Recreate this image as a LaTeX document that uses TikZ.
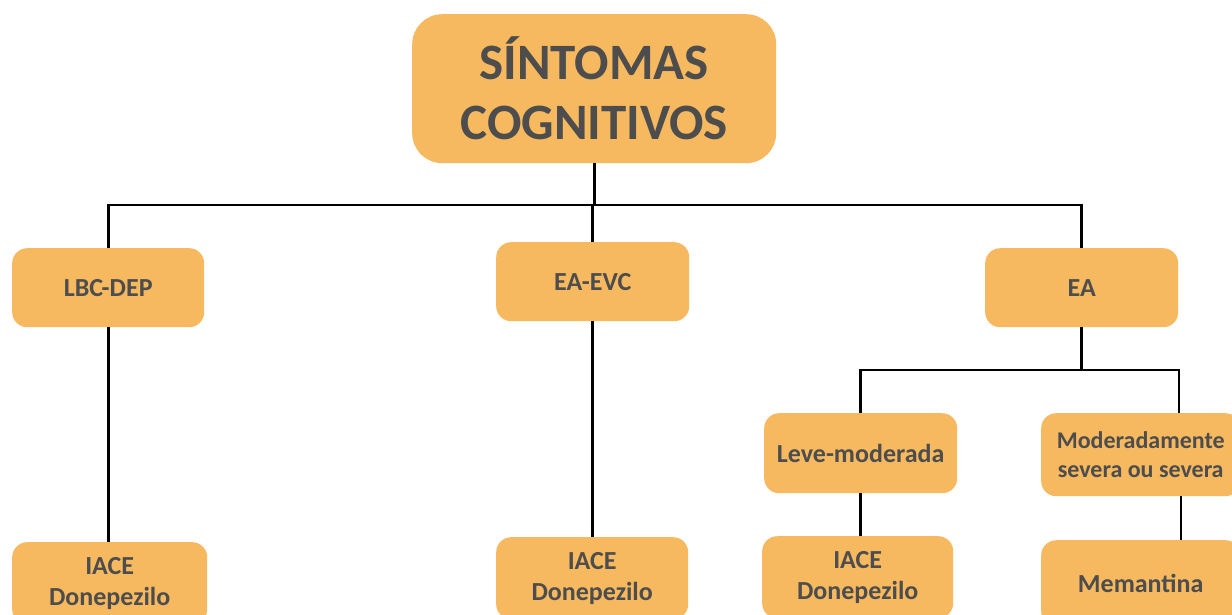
\documentclass[tikz,border=0pt]{standalone}
\usepackage{fontspec}
\setmainfont{Carlito}
\definecolor{boxfill}{HTML}{F6B95F}
\definecolor{boxtext}{HTML}{4D4D4D}
\begin{document}
\begin{tikzpicture}[x=1pt,y=-1pt,
  box/.style={fill=boxfill, rounded corners=15pt, text=boxtext, font=\bfseries\fontsize{26}{31}\selectfont, align=center, inner sep=0pt, anchor=north west},
  link/.style={line width=2.8pt, black}]
\useasboundingbox (0,0) rectangle (1232,614);
\clip (0,0) rectangle (1232,614);
% nodes
\node[box, rounded corners=30pt, minimum width=364pt, minimum height=149pt, font=\bfseries\fontsize{51}{60}\selectfont] (title) at (412,14) {SÍNTOMAS\\COGNITIVOS};
\node[box, minimum width=192pt, minimum height=79pt] (lbc) at (12,248) {LBC-DEP};
\node[box, minimum width=193pt, minimum height=79pt] (eaevc) at (496,242) {EA-EVC};
\node[box, minimum width=193pt, minimum height=79pt] (ea) at (985,248) {EA};
\node[box, minimum width=193pt, minimum height=80pt] (leve) at (764,413) {Leve-moderada};
\node[box, minimum width=199pt, minimum height=83pt, font=\bfseries\fontsize{24}{29}\selectfont] (mod) at (1041,413) {Moderadamente\\severa ou severa};
\node[box, minimum width=195pt, minimum height=82pt] (iace1) at (12,542) {IACE\\Donepezilo};
\node[box, minimum width=192pt, minimum height=82pt] (iace2) at (496,537) {IACE\\Donepezilo};
\node[box, minimum width=191pt, minimum height=82pt] (iace3) at (762,536) {IACE\\Donepezilo};
\node[box, minimum width=199pt, minimum height=86pt] (mem) at (1041,540) {Memantina};
% junctions
\coordinate (j1) at (593,205);
\coordinate (j2) at (1082,370);
\coordinate (modtop) at ([xshift=138pt]mod.north west);
\coordinate (modbot) at ([xshift=140pt]mod.south west);
% connectors
\draw[link] (title.south) -- (title.south |- j1);
\draw[link] (eaevc.north |- j1) -- (eaevc.north);
\draw[link] (lbc.north) -- (lbc.north |- j1) -- (ea.north |- j1) -- (ea.north);
\draw[link] (ea.south) -- (ea.south |- j2);
\draw[link] (leve.north) -- (leve.north |- j2) -- (modtop |- j2) -- (modtop);
\draw[link] (lbc.south) -- (lbc.south |- iace1.north);
\draw[link] (eaevc.south) -- (eaevc.south |- iace2.north);
\draw[link] (leve.south) -- (leve.south |- iace3.north);
\draw[link] (modbot) -- (modbot |- mem.north);
\end{tikzpicture}
\end{document}
